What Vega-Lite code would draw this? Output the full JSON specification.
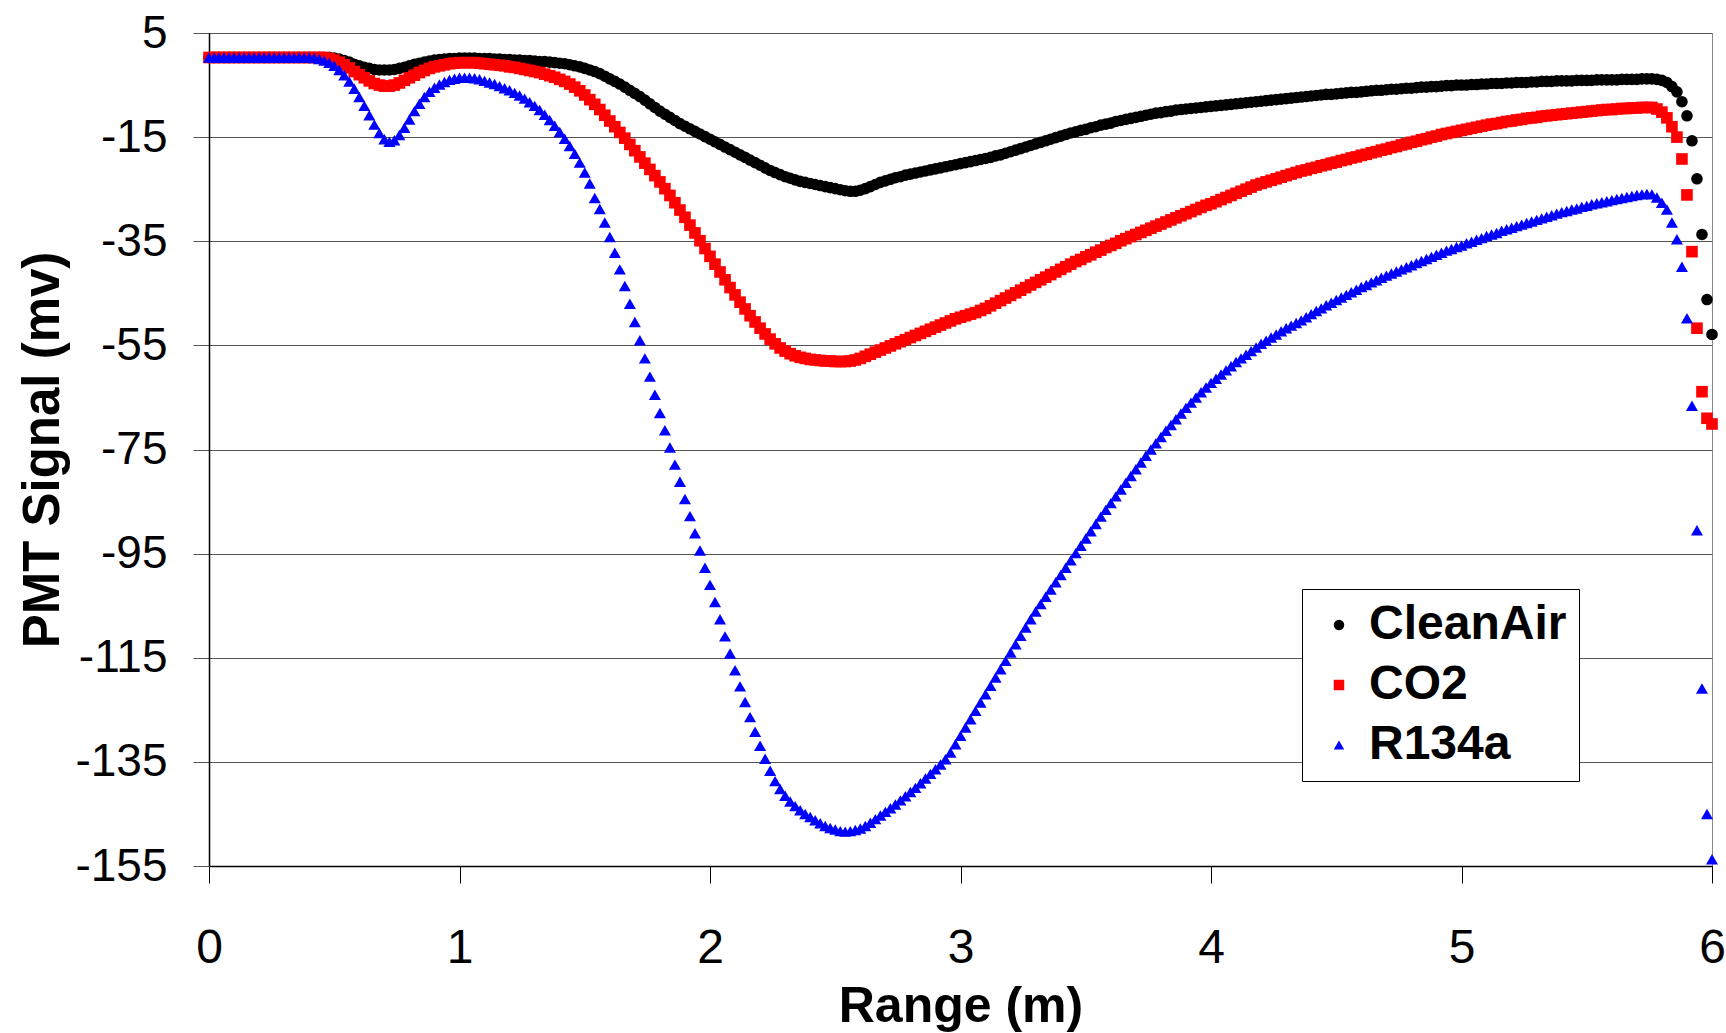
{
  "$schema": "https://vega.github.io/schema/vega-lite/v6.json",
  "width": 1503,
  "height": 833,
  "autosize": {"type": "none"},
  "padding": {"left": 209, "top": 33, "right": 14, "bottom": 167},
  "background": "white",
  "config": {"view": {"stroke": "#888888", "strokeWidth": 1}, "font": "Liberation Sans"},
  "data": {"values": [
{"x":0,"a":0.3,"c":0.3,"r":0.3},{"x":0.02,"a":0.3,"c":0.3,"r":0.3},{"x":0.04,"a":0.3,"c":0.3,"r":0.3},{"x":0.06,"a":0.3,"c":0.3,"r":0.3},{"x":0.08,"a":0.3,"c":0.3,"r":0.3},
{"x":0.1,"a":0.3,"c":0.3,"r":0.3},{"x":0.12,"a":0.3,"c":0.3,"r":0.3},{"x":0.14,"a":0.3,"c":0.3,"r":0.3},{"x":0.16,"a":0.3,"c":0.3,"r":0.3},{"x":0.18,"a":0.3,"c":0.3,"r":0.3},
{"x":0.2,"a":0.3,"c":0.3,"r":0.3},{"x":0.22,"a":0.3,"c":0.3,"r":0.3},{"x":0.24,"a":0.3,"c":0.3,"r":0.3},{"x":0.26,"a":0.3,"c":0.3,"r":0.3},{"x":0.28,"a":0.3,"c":0.3,"r":0.3},
{"x":0.3,"a":0.3,"c":0.3,"r":0.3},{"x":0.32,"a":0.3,"c":0.3,"r":0.3},{"x":0.34,"a":0.3,"c":0.3,"r":0.3},{"x":0.36,"a":0.3,"c":0.3,"r":0.3},{"x":0.38,"a":0.3,"c":0.3,"r":0.3},
{"x":0.4,"a":0.3,"c":0.3,"r":0.3},{"x":0.42,"a":0.3,"c":0.3,"r":0.2},{"x":0.44,"a":0.3,"c":0.3,"r":0.0},{"x":0.46,"a":0.3,"c":0.3,"r":-0.3},{"x":0.48,"a":0.3,"c":0.1,"r":-0.7},
{"x":0.5,"a":0.2,"c":-0.2,"r":-1.3},{"x":0.52,"a":0.0,"c":-0.6,"r":-2.1},{"x":0.54,"a":-0.3,"c":-1.1,"r":-3.1},{"x":0.56,"a":-0.6,"c":-1.7,"r":-4.3},{"x":0.58,"a":-1.0,"c":-2.4,"r":-5.7},
{"x":0.6,"a":-1.3,"c":-3.0,"r":-7.3},{"x":0.62,"a":-1.6,"c":-3.6,"r":-9.0},{"x":0.64,"a":-1.8,"c":-4.2,"r":-10.8},{"x":0.66,"a":-2.0,"c":-4.7,"r":-12.6},{"x":0.68,"a":-2.1,"c":-5.0,"r":-14.2},
{"x":0.7,"a":-2.1,"c":-5.2,"r":-15.4},{"x":0.72,"a":-2.1,"c":-5.2,"r":-15.9},{"x":0.74,"a":-2.0,"c":-5.0,"r":-15.6},{"x":0.76,"a":-1.8,"c":-4.6,"r":-14.6},{"x":0.78,"a":-1.6,"c":-4.1,"r":-13.2},
{"x":0.8,"a":-1.3,"c":-3.6,"r":-11.6},{"x":0.82,"a":-1.0,"c":-3.1,"r":-10.0},{"x":0.84,"a":-0.8,"c":-2.6,"r":-8.6},{"x":0.86,"a":-0.6,"c":-2.2,"r":-7.3},{"x":0.88,"a":-0.4,"c":-1.8,"r":-6.3},
{"x":0.9,"a":-0.2,"c":-1.5,"r":-5.5},{"x":0.92,"a":-0.1,"c":-1.3,"r":-4.9},{"x":0.94,"a":0.0,"c":-1.1,"r":-4.4},{"x":0.96,"a":0.1,"c":-0.9,"r":-4.0},{"x":0.98,"a":0.1,"c":-0.8,"r":-3.8},
{"x":1.0,"a":0.2,"c":-0.7,"r":-3.6},{"x":1.02,"a":0.2,"c":-0.7,"r":-3.6},{"x":1.04,"a":0.2,"c":-0.7,"r":-3.6},{"x":1.06,"a":0.2,"c":-0.7,"r":-3.7},{"x":1.08,"a":0.1,"c":-0.8,"r":-3.9},
{"x":1.1,"a":0.1,"c":-0.9,"r":-4.2},{"x":1.12,"a":0.1,"c":-1.0,"r":-4.5},{"x":1.14,"a":0.0,"c":-1.1,"r":-4.8},{"x":1.16,"a":0.0,"c":-1.2,"r":-5.2},{"x":1.18,"a":-0.1,"c":-1.3,"r":-5.6},
{"x":1.2,"a":-0.1,"c":-1.5,"r":-6.0},{"x":1.22,"a":-0.2,"c":-1.6,"r":-6.5},{"x":1.24,"a":-0.2,"c":-1.8,"r":-7.0},{"x":1.26,"a":-0.3,"c":-2.0,"r":-7.6},{"x":1.28,"a":-0.3,"c":-2.2,"r":-8.3},
{"x":1.3,"a":-0.4,"c":-2.4,"r":-9.0},{"x":1.32,"a":-0.5,"c":-2.6,"r":-9.8},{"x":1.34,"a":-0.5,"c":-2.9,"r":-10.7},{"x":1.36,"a":-0.6,"c":-3.2,"r":-11.7},{"x":1.38,"a":-0.7,"c":-3.5,"r":-12.8},
{"x":1.4,"a":-0.8,"c":-3.9,"r":-14.0},{"x":1.42,"a":-0.9,"c":-4.3,"r":-15.3},{"x":1.44,"a":-1.1,"c":-4.8,"r":-16.7},{"x":1.46,"a":-1.3,"c":-5.4,"r":-18.2},{"x":1.48,"a":-1.5,"c":-6.1,"r":-19.9},
{"x":1.5,"a":-1.8,"c":-6.9,"r":-21.8},{"x":1.52,"a":-2.1,"c":-7.8,"r":-23.9},{"x":1.54,"a":-2.4,"c":-8.7,"r":-26.7},{"x":1.56,"a":-2.8,"c":-9.7,"r":-28.8},{"x":1.58,"a":-3.3,"c":-10.8,"r":-31.4},
{"x":1.6,"a":-3.8,"c":-11.9,"r":-34.2},{"x":1.62,"a":-4.3,"c":-13.0,"r":-37.2},{"x":1.64,"a":-4.8,"c":-14.1,"r":-40.4},{"x":1.66,"a":-5.4,"c":-15.2,"r":-43.6},{"x":1.68,"a":-6.0,"c":-16.4,"r":-47.0},
{"x":1.7,"a":-6.6,"c":-17.6,"r":-50.5},{"x":1.72,"a":-7.2,"c":-18.8,"r":-54.0},{"x":1.74,"a":-7.9,"c":-20.0,"r":-57.5},{"x":1.76,"a":-8.6,"c":-21.2,"r":-61.0},{"x":1.78,"a":-9.3,"c":-22.4,"r":-64.5},
{"x":1.8,"a":-10.0,"c":-23.6,"r":-68.0},{"x":1.82,"a":-10.6,"c":-24.9,"r":-71.3},{"x":1.84,"a":-11.2,"c":-26.2,"r":-74.6},{"x":1.86,"a":-11.8,"c":-27.6,"r":-77.9},{"x":1.88,"a":-12.4,"c":-29.0,"r":-81.2},
{"x":1.9,"a":-12.9,"c":-30.4,"r":-84.5},{"x":1.92,"a":-13.4,"c":-31.9,"r":-87.8},{"x":1.94,"a":-13.9,"c":-33.4,"r":-91.1},{"x":1.96,"a":-14.4,"c":-34.9,"r":-94.4},{"x":1.98,"a":-14.9,"c":-36.4,"r":-97.7},
{"x":2.0,"a":-15.4,"c":-37.9,"r":-101.0},{"x":2.02,"a":-15.9,"c":-39.4,"r":-104.3},{"x":2.04,"a":-16.4,"c":-40.9,"r":-107.6},{"x":2.06,"a":-16.9,"c":-42.4,"r":-110.9},{"x":2.08,"a":-17.4,"c":-43.9,"r":-114.2},
{"x":2.1,"a":-17.9,"c":-45.3,"r":-117.4},{"x":2.12,"a":-18.4,"c":-46.7,"r":-120.5},{"x":2.14,"a":-18.9,"c":-48.0,"r":-123.5},{"x":2.16,"a":-19.4,"c":-49.3,"r":-126.4},{"x":2.18,"a":-19.9,"c":-50.5,"r":-129.2},
{"x":2.2,"a":-20.4,"c":-51.7,"r":-131.9},{"x":2.22,"a":-20.9,"c":-52.8,"r":-134.4},{"x":2.24,"a":-21.4,"c":-53.8,"r":-136.7},{"x":2.26,"a":-21.8,"c":-54.7,"r":-138.7},{"x":2.28,"a":-22.2,"c":-55.5,"r":-140.2},
{"x":2.3,"a":-22.6,"c":-56.1,"r":-141.5},{"x":2.32,"a":-22.9,"c":-56.6,"r":-142.6},{"x":2.34,"a":-23.2,"c":-57.0,"r":-143.5},{"x":2.36,"a":-23.5,"c":-57.3,"r":-144.3},{"x":2.38,"a":-23.7,"c":-57.5,"r":-145.0},
{"x":2.4,"a":-23.9,"c":-57.7,"r":-145.6},{"x":2.42,"a":-24.1,"c":-57.8,"r":-146.2},{"x":2.44,"a":-24.3,"c":-57.9,"r":-146.8},{"x":2.46,"a":-24.5,"c":-58.0,"r":-147.3},{"x":2.48,"a":-24.7,"c":-58.0,"r":-147.7},
{"x":2.5,"a":-24.9,"c":-58.1,"r":-148.0},{"x":2.52,"a":-25.1,"c":-58.1,"r":-148.3},{"x":2.54,"a":-25.3,"c":-58.1,"r":-148.4},{"x":2.56,"a":-25.4,"c":-58.0,"r":-148.3},{"x":2.58,"a":-25.4,"c":-57.8,"r":-148.1},
{"x":2.6,"a":-25.2,"c":-57.5,"r":-147.8},{"x":2.62,"a":-24.9,"c":-57.1,"r":-147.3},{"x":2.64,"a":-24.5,"c":-56.7,"r":-146.7},{"x":2.66,"a":-24.1,"c":-56.3,"r":-146.0},{"x":2.68,"a":-23.7,"c":-55.9,"r":-145.3},
{"x":2.7,"a":-23.4,"c":-55.5,"r":-144.6},{"x":2.72,"a":-23.1,"c":-55.1,"r":-143.9},{"x":2.74,"a":-22.8,"c":-54.7,"r":-143.2},{"x":2.76,"a":-22.6,"c":-54.3,"r":-142.4},{"x":2.78,"a":-22.3,"c":-53.9,"r":-141.6},
{"x":2.8,"a":-22.1,"c":-53.5,"r":-140.8},{"x":2.82,"a":-21.9,"c":-53.1,"r":-140.0},{"x":2.84,"a":-21.7,"c":-52.7,"r":-139.1},{"x":2.86,"a":-21.5,"c":-52.3,"r":-138.2},{"x":2.88,"a":-21.3,"c":-51.9,"r":-137.3},
{"x":2.9,"a":-21.1,"c":-51.5,"r":-136.4},{"x":2.92,"a":-20.9,"c":-51.1,"r":-135.5},{"x":2.94,"a":-20.7,"c":-50.7,"r":-134.5},{"x":2.96,"a":-20.5,"c":-50.3,"r":-133.2},{"x":2.98,"a":-20.3,"c":-49.9,"r":-131.6},
{"x":3.0,"a":-20.1,"c":-49.6,"r":-130.0},{"x":3.02,"a":-19.9,"c":-49.3,"r":-128.4},{"x":3.04,"a":-19.7,"c":-49.0,"r":-126.8},{"x":3.06,"a":-19.5,"c":-48.7,"r":-125.2},{"x":3.08,"a":-19.3,"c":-48.3,"r":-123.6},
{"x":3.1,"a":-19.1,"c":-47.9,"r":-122.0},{"x":3.12,"a":-18.9,"c":-47.4,"r":-120.4},{"x":3.14,"a":-18.6,"c":-46.9,"r":-118.8},{"x":3.16,"a":-18.4,"c":-46.4,"r":-117.2},{"x":3.18,"a":-18.1,"c":-45.9,"r":-115.6},
{"x":3.2,"a":-17.8,"c":-45.4,"r":-114.0},{"x":3.22,"a":-17.5,"c":-44.9,"r":-112.4},{"x":3.24,"a":-17.2,"c":-44.4,"r":-110.8},{"x":3.26,"a":-16.9,"c":-43.9,"r":-109.2},{"x":3.28,"a":-16.6,"c":-43.4,"r":-107.6},
{"x":3.3,"a":-16.3,"c":-42.9,"r":-106.1},{"x":3.32,"a":-16.0,"c":-42.4,"r":-104.7},{"x":3.34,"a":-15.7,"c":-41.9,"r":-103.3},{"x":3.36,"a":-15.4,"c":-41.4,"r":-101.9},{"x":3.38,"a":-15.1,"c":-40.9,"r":-100.5},
{"x":3.4,"a":-14.8,"c":-40.4,"r":-99.1},{"x":3.42,"a":-14.5,"c":-39.9,"r":-97.7},{"x":3.44,"a":-14.2,"c":-39.4,"r":-96.3},{"x":3.46,"a":-14.0,"c":-38.9,"r":-94.9},{"x":3.48,"a":-13.7,"c":-38.5,"r":-93.5},
{"x":3.5,"a":-13.5,"c":-38.0,"r":-92.1},{"x":3.52,"a":-13.2,"c":-37.6,"r":-90.7},{"x":3.54,"a":-13.0,"c":-37.1,"r":-89.3},{"x":3.56,"a":-12.7,"c":-36.7,"r":-87.9},{"x":3.58,"a":-12.5,"c":-36.2,"r":-86.6},
{"x":3.6,"a":-12.3,"c":-35.8,"r":-85.3},{"x":3.62,"a":-12.0,"c":-35.4,"r":-84.0},{"x":3.64,"a":-11.8,"c":-34.9,"r":-82.7},{"x":3.66,"a":-11.6,"c":-34.5,"r":-81.4},{"x":3.68,"a":-11.4,"c":-34.1,"r":-80.1},
{"x":3.7,"a":-11.2,"c":-33.7,"r":-78.8},{"x":3.72,"a":-11.0,"c":-33.3,"r":-77.5},{"x":3.74,"a":-10.8,"c":-32.9,"r":-76.2},{"x":3.76,"a":-10.6,"c":-32.5,"r":-75.0},{"x":3.78,"a":-10.4,"c":-32.1,"r":-73.8},
{"x":3.8,"a":-10.3,"c":-31.7,"r":-72.6},{"x":3.82,"a":-10.1,"c":-31.3,"r":-71.4},{"x":3.84,"a":-10.0,"c":-30.9,"r":-70.3},{"x":3.86,"a":-9.8,"c":-30.5,"r":-69.2},{"x":3.88,"a":-9.7,"c":-30.1,"r":-68.1},
{"x":3.9,"a":-9.6,"c":-29.7,"r":-67.0},{"x":3.92,"a":-9.5,"c":-29.3,"r":-66.0},{"x":3.94,"a":-9.4,"c":-28.9,"r":-65.0},{"x":3.96,"a":-9.3,"c":-28.5,"r":-64.0},{"x":3.98,"a":-9.2,"c":-28.1,"r":-63.1},
{"x":4.0,"a":-9.1,"c":-27.8,"r":-62.2},{"x":4.02,"a":-9.0,"c":-27.4,"r":-61.4},{"x":4.04,"a":-8.9,"c":-27.0,"r":-60.6},{"x":4.06,"a":-8.8,"c":-26.6,"r":-59.8},{"x":4.08,"a":-8.7,"c":-26.2,"r":-59.0},
{"x":4.1,"a":-8.6,"c":-25.8,"r":-58.2},{"x":4.12,"a":-8.5,"c":-25.4,"r":-57.5},{"x":4.14,"a":-8.4,"c":-25.0,"r":-56.8},{"x":4.16,"a":-8.3,"c":-24.6,"r":-56.1},{"x":4.18,"a":-8.2,"c":-24.2,"r":-55.4},
{"x":4.2,"a":-8.1,"c":-23.9,"r":-54.7},{"x":4.22,"a":-8.0,"c":-23.6,"r":-54.1},{"x":4.24,"a":-7.9,"c":-23.3,"r":-53.5},{"x":4.26,"a":-7.8,"c":-23.0,"r":-52.9},{"x":4.28,"a":-7.7,"c":-22.7,"r":-52.3},
{"x":4.3,"a":-7.6,"c":-22.4,"r":-51.7},{"x":4.32,"a":-7.5,"c":-22.1,"r":-51.2},{"x":4.34,"a":-7.4,"c":-21.8,"r":-50.7},{"x":4.36,"a":-7.3,"c":-21.5,"r":-50.2},{"x":4.38,"a":-7.2,"c":-21.3,"r":-49.6},
{"x":4.4,"a":-7.1,"c":-21.0,"r":-49.0},{"x":4.42,"a":-7.0,"c":-20.8,"r":-48.4},{"x":4.44,"a":-6.9,"c":-20.5,"r":-47.9},{"x":4.46,"a":-6.8,"c":-20.3,"r":-47.3},{"x":4.48,"a":-6.8,"c":-20.0,"r":-46.8},
{"x":4.5,"a":-6.7,"c":-19.8,"r":-46.3},{"x":4.52,"a":-6.6,"c":-19.5,"r":-45.8},{"x":4.54,"a":-6.5,"c":-19.3,"r":-45.3},{"x":4.56,"a":-6.4,"c":-19.0,"r":-44.8},{"x":4.58,"a":-6.4,"c":-18.8,"r":-44.3},
{"x":4.6,"a":-6.3,"c":-18.5,"r":-43.8},{"x":4.62,"a":-6.2,"c":-18.3,"r":-43.4},{"x":4.64,"a":-6.1,"c":-18.0,"r":-42.9},{"x":4.66,"a":-6.0,"c":-17.8,"r":-42.5},{"x":4.68,"a":-6.0,"c":-17.5,"r":-42.0},
{"x":4.7,"a":-5.9,"c":-17.3,"r":-41.6},{"x":4.72,"a":-5.8,"c":-17.0,"r":-41.2},{"x":4.74,"a":-5.8,"c":-16.8,"r":-40.8},{"x":4.76,"a":-5.7,"c":-16.5,"r":-40.4},{"x":4.78,"a":-5.6,"c":-16.3,"r":-40.0},
{"x":4.8,"a":-5.6,"c":-16.0,"r":-39.6},{"x":4.82,"a":-5.5,"c":-15.8,"r":-39.2},{"x":4.84,"a":-5.4,"c":-15.5,"r":-38.8},{"x":4.86,"a":-5.4,"c":-15.3,"r":-38.4},{"x":4.88,"a":-5.3,"c":-15.0,"r":-38.0},
{"x":4.9,"a":-5.3,"c":-14.8,"r":-37.6},{"x":4.92,"a":-5.2,"c":-14.5,"r":-37.2},{"x":4.94,"a":-5.1,"c":-14.3,"r":-36.8},{"x":4.96,"a":-5.1,"c":-14.1,"r":-36.5},{"x":4.98,"a":-5.0,"c":-13.9,"r":-36.1},
{"x":5.0,"a":-5.0,"c":-13.7,"r":-35.8},{"x":5.02,"a":-5.0,"c":-13.5,"r":-35.4},{"x":5.04,"a":-4.9,"c":-13.3,"r":-35.1},{"x":5.06,"a":-4.9,"c":-13.1,"r":-34.7},{"x":5.08,"a":-4.8,"c":-12.9,"r":-34.4},
{"x":5.1,"a":-4.8,"c":-12.7,"r":-34.0},{"x":5.12,"a":-4.7,"c":-12.5,"r":-33.7},{"x":5.14,"a":-4.7,"c":-12.4,"r":-33.4},{"x":5.16,"a":-4.7,"c":-12.2,"r":-33.0},{"x":5.18,"a":-4.6,"c":-12.0,"r":-32.7},
{"x":5.2,"a":-4.6,"c":-11.9,"r":-32.4},{"x":5.22,"a":-4.5,"c":-11.7,"r":-32.1},{"x":5.24,"a":-4.5,"c":-11.6,"r":-31.8},{"x":5.26,"a":-4.5,"c":-11.4,"r":-31.5},{"x":5.28,"a":-4.4,"c":-11.3,"r":-31.2},
{"x":5.3,"a":-4.4,"c":-11.2,"r":-30.9},{"x":5.32,"a":-4.3,"c":-11.0,"r":-30.6},{"x":5.34,"a":-4.3,"c":-10.9,"r":-30.3},{"x":5.36,"a":-4.3,"c":-10.8,"r":-30.0},{"x":5.38,"a":-4.2,"c":-10.7,"r":-29.7},
{"x":5.4,"a":-4.2,"c":-10.6,"r":-29.4},{"x":5.42,"a":-4.2,"c":-10.5,"r":-29.2},{"x":5.44,"a":-4.2,"c":-10.4,"r":-28.9},{"x":5.46,"a":-4.1,"c":-10.3,"r":-28.7},{"x":5.48,"a":-4.1,"c":-10.2,"r":-28.4},
{"x":5.5,"a":-4.1,"c":-10.1,"r":-28.2},{"x":5.52,"a":-4.1,"c":-10.0,"r":-27.9},{"x":5.54,"a":-4.0,"c":-9.9,"r":-27.7},{"x":5.56,"a":-4.0,"c":-9.8,"r":-27.5},{"x":5.58,"a":-4.0,"c":-9.7,"r":-27.3},
{"x":5.6,"a":-4.0,"c":-9.7,"r":-27.1},{"x":5.62,"a":-4.0,"c":-9.6,"r":-26.9},{"x":5.64,"a":-3.9,"c":-9.5,"r":-26.7},{"x":5.66,"a":-3.9,"c":-9.5,"r":-26.5},{"x":5.68,"a":-3.9,"c":-9.4,"r":-26.3},
{"x":5.7,"a":-3.9,"c":-9.4,"r":-26.1},{"x":5.72,"a":-3.8,"c":-9.3,"r":-26.0},{"x":5.74,"a":-3.8,"c":-9.3,"r":-25.9},{"x":5.76,"a":-3.8,"c":-9.3,"r":-26.0},{"x":5.78,"a":-3.9,"c":-9.6,"r":-26.6},
{"x":5.8,"a":-4.1,"c":-10.2,"r":-27.6},{"x":5.82,"a":-4.5,"c":-11.3,"r":-28.9},{"x":5.84,"a":-5.3,"c":-13.0,"r":-31.4},{"x":5.86,"a":-6.3,"c":-15.0,"r":-34.6},{"x":5.88,"a":-8.2,"c":-19.2,"r":-39.9},
{"x":5.9,"a":-10.9,"c":-26.1,"r":-49.8},{"x":5.92,"a":-15.7,"c":-37.0,"r":-66.6},{"x":5.94,"a":-23.0,"c":-51.7,"r":-90.5},{"x":5.96,"a":-33.7,"c":-63.9,"r":-120.9},{"x":5.98,"a":-46.2,"c":-69.0,"r":-145.0},
{"x":6.0,"a":-52.9,"c":-70.1,"r":-153.7}
  ]},
  "encoding": {
    "x": {
      "field": "x", "type": "quantitative",
      "scale": {"domain": [0, 6], "nice": false, "zero": false},
      "axis": {
        "values": [0, 1, 2, 3, 4, 5, 6], "grid": false, "labelExpr": "datum.value + ''",
        "domainColor": "#000000", "domainWidth": 1.5, "tickColor": "#000000", "tickSize": 17, "tickWidth": 1,
        "labelFont": "Liberation Sans", "labelFontSize": 48, "labelColor": "#000000", "labelPadding": 41,
        "labelFlush": false, "labelOverlap": false,
        "title": "Range (m)", "titleFont": "Liberation Sans", "titleFontSize": 50, "titleFontWeight": "bold", "titleColor": "#000000",
        "titleX": 751.5, "titleY": 155, "titleBaseline": "alphabetic", "titleAlign": "center"
      }
    }
  },
  "layer": [
    {
      "mark": {"type": "point", "filled": true, "opacity": 1, "size": 135},
      "encoding": {
        "y": {
          "field": "a", "type": "quantitative", "title": "PMT Signal (mv)",
          "scale": {"domain": [-155, 5], "nice": false, "zero": false},
          "axis": {
            "values": [5, -15, -35, -55, -75, -95, -115, -135, -155], "labelExpr": "datum.value + ''",
            "grid": true, "gridColor": "#555555", "gridWidth": 1,
            "domainColor": "#000000", "domainWidth": 1.5, "tickColor": "#555555", "tickSize": 16, "tickWidth": 1,
            "labelFont": "Liberation Sans", "labelFontSize": 46, "labelColor": "#000000", "labelPadding": 26,
            "labelFlush": false, "labelOverlap": false,
            "titleFont": "Liberation Sans", "titleFontSize": 51, "titleFontWeight": "bold", "titleColor": "#000000",
            "titleX": -151, "titleY": 416.5, "titleAngle": -90, "titleBaseline": "alphabetic", "titleAlign": "center"
          }
        },
        "color": {"datum": "CleanAir", "type": "nominal",
          "scale": {"domain": ["CleanAir", "CO2", "R134a"], "range": ["#000000", "#ff0000", "#0000ff"]},
          "legend": {"orient": "none", "legendX": 1093, "legendY": 556, "title": null,
            "labelFont": "Liberation Sans", "labelFontSize": 48, "labelFontWeight": "bold", "labelColor": "#000000", "labelLimit": 400,
            "symbolSize": 110, "symbolOpacity": 1, "symbolStrokeWidth": 0, "padding": 12, "strokeColor": "#000000", "fillColor": "#ffffff",
            "rowPadding": 12, "symbolOffset": 1, "labelOffset": 6}},
        "shape": {"datum": "CleanAir", "type": "nominal",
          "scale": {"domain": ["CleanAir", "CO2", "R134a"], "range": ["circle", "square", "triangle-up"]},
          "legend": {"orient": "none", "legendX": 1093, "legendY": 556, "title": null,
            "labelFont": "Liberation Sans", "labelFontSize": 48, "labelFontWeight": "bold", "labelColor": "#000000", "labelLimit": 400,
            "symbolSize": 110, "symbolOpacity": 1, "symbolStrokeWidth": 0, "padding": 12, "strokeColor": "#000000", "fillColor": "#ffffff",
            "rowPadding": 12, "symbolOffset": 1, "labelOffset": 6}}
      }
    },
    {
      "mark": {"type": "point", "filled": true, "opacity": 1, "size": 135},
      "encoding": {
        "y": {"field": "c", "type": "quantitative", "title": "PMT Signal (mv)", "scale": {"domain": [-155, 5], "nice": false, "zero": false}},
        "color": {"datum": "CO2", "type": "nominal"},
        "shape": {"datum": "CO2", "type": "nominal"}
      }
    },
    {
      "mark": {"type": "point", "filled": true, "opacity": 1, "size": 145},
      "encoding": {
        "y": {"field": "r", "type": "quantitative", "title": "PMT Signal (mv)", "scale": {"domain": [-155, 5], "nice": false, "zero": false}},
        "color": {"datum": "R134a", "type": "nominal"},
        "shape": {"datum": "R134a", "type": "nominal"}
      }
    }
  ]
}
